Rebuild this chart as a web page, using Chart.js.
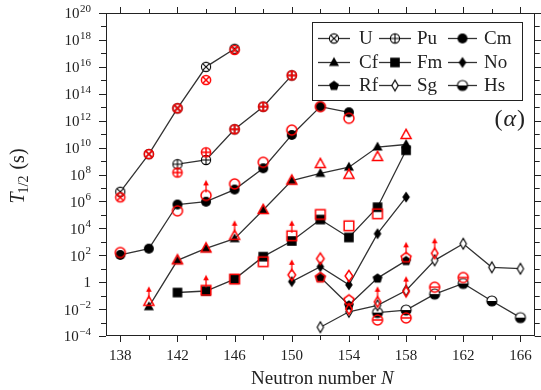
<!DOCTYPE html>
<html>
<head>
<meta charset="utf-8">
<script src="https://cdn.jsdelivr.net/npm/chart.js@4.4.1/dist/chart.umd.min.js"></script>
<style>
  html, body { margin: 0; padding: 0; background: #fff; }
  canvas { display: block; }
</style>
</head>
<body>
<canvas id="halfLife" width="541" height="390"></canvas>
<script>
// Neutron numbers, calculated (black) and experimental (red) half-lives in seconds.
// L_* lists the N values where the red point is a lower limit (arrow up).
const N_U  = [138, 140, 142, 144, 146];
const T_U  = [5.2e6, 3.3e9, 8.3e12, 1.0e16, 2.2e17];
const E_U  = [2.0e6, 3.3e9, 8.3e12, 1.05e15, 1.8e17];
const L_U  = [];

const N_Pu = [142, 144, 146, 148, 150];
const T_Pu = [5.8e8, 1.2e9, 2.3e11, 1.1e13, 2.3e15];
const E_Pu = [1.4e8, 4.5e9, 2.3e11, 1.1e13, 2.3e15];
const L_Pu = [];

const N_Cm = [138, 140, 142, 144, 146, 148, 150, 152, 154];
const T_Cm = [1.05e2, 3.1e2, 5.9e5, 9.5e5, 7.6e6, 2.9e8, 8.7e10, 1.1e13, 4.2e12];
const E_Cm = [1.6e2, null, 2.0e5, 2.8e6, 2.0e7, 8.1e8, 2.0e11, 1.1e13, 1.5e12];
const L_Cm = [144];

const N_Cf = [140, 142, 144, 146, 148, 150, 152, 154, 156, 158];
const T_Cf = [1.5e-2, 4.2e1, 3.2e2, 1.7e3, 2.3e5, 3.5e7, 1.2e8, 3.5e8, 1.1e10, 1.7e10];
const E_Cf = [3.5e-2, 4.2e1, 3.2e2, 2.8e3, 2.3e5, 3.5e7, 6.0e8, 9.5e7, 2.0e9, 8.7e10];
const L_Cf = [140, 146];

const N_Fm = [142, 144, 146, 148, 150, 152, 154, 156, 158];
const T_Fm = [0.17, 0.22, 1.7, 79, 1.15e3, 4.5e4, 2.1e3, 3.7e5, 6.3e9];
const E_Fm = [null, 0.25, 1.7, 33, 2.8e3, 1.07e5, 1.55e4, 1.2e5, null];
const L_Fm = [144, 150];

const N_No = [150, 152, 154, 156, 158];
const T_No = [1.1, 14, 0.63, 4.0e3, 2.1e6];
const E_No = [3.5, 56, 2.9, null, null];
const L_No = [150];

const N_Rf = [152, 154, 156, 158];
const T_Rf = [2.3, 0.02, 2.0, 40];
const E_Rf = [2.3, 0.05, null, 70];
const L_Rf = [158];

const N_Sg = [152, 154, 156, 158, 160, 162, 164, 166];
const T_Sg = [4.5e-4, 6.3e-3, 1.9e-2, 0.24, 42, 7.2e2, 12.6, 10];
const E_Sg = [null, 1.0e-2, 3.5e-2, 0.2, 1.4e2, null, null, null];
const L_Sg = [156, 158, 160];

const N_Hs = [156, 158, 160, 162, 164, 166];
const T_Hs = [5.5e-3, 8.5e-3, 0.13, 0.8, 0.04, 2.3e-3];
const E_Hs = [1.55e-3, 2.2e-3, 0.42, 2.2, null, null];
const L_Hs = [];

const xTicks = [138, 142, 146, 150, 154, 158, 162, 166];
const yExps = [-4, -2, 0, 2, 4, 6, 8, 10, 12, 14, 16, 18, 20];

const elements = [
    { name: 'U',  N: N_U,  calc: T_U,  exp: E_U,  lim: L_U,  shape: 'otimes' },
    { name: 'Pu', N: N_Pu, calc: T_Pu, exp: E_Pu, lim: L_Pu, shape: 'oplus' },
    { name: 'Cm', N: N_Cm, calc: T_Cm, exp: E_Cm, lim: L_Cm, shape: 'circle' },
    { name: 'Cf', N: N_Cf, calc: T_Cf, exp: E_Cf, lim: L_Cf, shape: 'triangle' },
    { name: 'Fm', N: N_Fm, calc: T_Fm, exp: E_Fm, lim: L_Fm, shape: 'square' },
    { name: 'No', N: N_No, calc: T_No, exp: E_No, lim: L_No, shape: 'diamond' },
    { name: 'Rf', N: N_Rf, calc: T_Rf, exp: E_Rf, lim: L_Rf, shape: 'pentagon' },
    { name: 'Sg', N: N_Sg, calc: T_Sg, exp: E_Sg, lim: L_Sg, shape: 'thindiamond' },
    { name: 'Hs', N: N_Hs, calc: T_Hs, exp: E_Hs, lim: L_Hs, shape: 'halfcircle' }
];

const RED = '#ff0000';
const SERIF = '"Liberation Serif", "DejaVu Serif", serif';

// marker drawn into a small canvas, used as pointStyle
function makeMarker(shape, color, solid, arrow) {
    const w = 16;
    const arm = arrow ? 16 : 0;
    const h = 16 + 2 * arm;
    const c = document.createElement('canvas');
    c.width = w; c.height = h;
    const g = c.getContext('2d');
    g.translate(w / 2, h / 2);
    g.strokeStyle = color;
    g.fillStyle = color;
    g.lineWidth = solid ? 1.1 : 1.5;

    if (arrow) {
        g.lineWidth = 1.3;
        g.beginPath();
        g.moveTo(0, -3);
        g.lineTo(0, -12);
        g.stroke();
        g.beginPath();
        g.moveTo(0, -15.5);
        g.lineTo(2.8, -10);
        g.lineTo(-2.8, -10);
        g.closePath();
        g.fill();
        g.lineWidth = 1.5;
    }

    const openFill = () => {
        if (solid) { g.fillStyle = '#fff'; g.fill(); g.fillStyle = color; }
        g.stroke();
    };
    const poly = (pts) => {
        g.beginPath();
        pts.forEach((p, i) => i ? g.lineTo(p[0], p[1]) : g.moveTo(p[0], p[1]));
        g.closePath();
    };

    switch (shape) {
        case 'otimes':
            g.beginPath(); g.arc(0, 0, 4.6, 0, Math.PI * 2); openFill();
            g.beginPath();
            g.moveTo(-3.2, -3.2); g.lineTo(3.2, 3.2);
            g.moveTo(3.2, -3.2); g.lineTo(-3.2, 3.2);
            g.stroke();
            break;
        case 'oplus':
            g.beginPath(); g.arc(0, 0, 4.6, 0, Math.PI * 2); openFill();
            g.beginPath();
            g.moveTo(-4.6, 0); g.lineTo(4.6, 0);
            g.moveTo(0, -4.6); g.lineTo(0, 4.6);
            g.stroke();
            break;
        case 'circle':
            g.beginPath(); g.arc(0, 0, 5, 0, Math.PI * 2);
            solid ? g.fill() : g.stroke();
            break;
        case 'triangle':
            poly([[0, -5.6], [5, 3.4], [-5, 3.4]]);
            solid ? g.fill() : g.stroke();
            break;
        case 'square':
            poly([[-4.8, -4.8], [4.8, -4.8], [4.8, 4.8], [-4.8, 4.8]]);
            solid ? g.fill() : g.stroke();
            break;
        case 'diamond':
            poly([[0, -5.6], [3.8, 0], [0, 5.6], [-3.8, 0]]);
            solid ? g.fill() : g.stroke();
            break;
        case 'pentagon': {
            const pts = [];
            for (let k = 0; k < 5; k++) {
                const a = -Math.PI / 2 + k * 2 * Math.PI / 5;
                pts.push([5.2 * Math.cos(a), 5.2 * Math.sin(a) + 0.4]);
            }
            poly(pts);
            solid ? g.fill() : g.stroke();
            break;
        }
        case 'thindiamond':
            poly([[0, -5.4], [3.2, 0], [0, 5.4], [-3.2, 0]]);
            openFill();
            break;
        case 'halfcircle':
            if (solid) {
                g.beginPath(); g.arc(0, 0, 5, 0, Math.PI * 2);
                g.fillStyle = '#fff'; g.fill(); g.fillStyle = color;
                g.beginPath(); g.arc(0, 0, 5, 0, Math.PI); g.closePath(); g.fill();
                g.beginPath(); g.arc(0, 0, 5, 0, Math.PI * 2); g.stroke();
            } else {
                g.beginPath(); g.arc(0, 0, 5, 0, Math.PI * 2); g.stroke();
                g.beginPath(); g.moveTo(-5, 0); g.lineTo(5, 0); g.stroke();
            }
            break;
    }
    return c;
}

const blackMarks = {};
const datasets = [];
elements.forEach(el => {
    const mk = makeMarker(el.shape, '#000', true, false);
    blackMarks[el.name] = mk;
    datasets.push({
        type: 'line',
        label: el.name,
        data: el.N.map((n, i) => ({ x: n, y: el.calc[i] })),
        borderColor: '#333',
        borderWidth: 1.3,
        pointStyle: mk,
        pointRadius: 5,
        fill: false,
        tension: 0,
        order: 2
    });
    const red = makeMarker(el.shape, RED, false, false);
    const redUp = makeMarker(el.shape, RED, false, true);
    const pts = [];
    el.N.forEach((n, i) => { if (el.exp[i] != null) pts.push({ x: n, y: el.exp[i] }); });
    datasets.push({
        type: 'scatter',
        label: el.name + ' exp',
        data: pts,
        showLine: false,
        pointStyle: ctx => (ctx.raw && el.lim.includes(ctx.raw.x)) ? redUp : red,
        pointRadius: 5,
        order: 1
    });
});

// axes frame, ticks, labels, titles and legend
const decorations = {
    id: 'decorations',
    afterDraw(chart) {
        const { ctx, chartArea: a, scales: { x, y } } = chart;
        ctx.save();
        ctx.strokeStyle = '#222';
        ctx.lineWidth = 1;
        ctx.strokeRect(Math.round(a.left) + 0.5, Math.round(a.top) + 0.5,
            Math.round(a.right - a.left) - 1, Math.round(a.bottom - a.top) - 1);

        ctx.beginPath();
        for (let n = 138; n <= 166; n += 2) {
            const px = Math.round(x.getPixelForValue(n)) + 0.5;
            const len = xTicks.includes(n) ? 6 : 4;
            ctx.moveTo(px, a.bottom); ctx.lineTo(px, a.bottom + len);
            ctx.moveTo(px, a.top); ctx.lineTo(px, a.top - len);
        }
        for (let e = -4; e <= 20; e++) {
            const py = Math.round(y.getPixelForValue(Math.pow(10, e))) + 0.5;
            const len = yExps.includes(e) ? 7 : 5;
            ctx.moveTo(a.left, py); ctx.lineTo(a.left - len, py);
            ctx.moveTo(a.right, py); ctx.lineTo(a.right + len, py);
        }
        ctx.stroke();

        ctx.fillStyle = '#222';
        ctx.font = '15px ' + SERIF;
        ctx.textAlign = 'center';
        ctx.textBaseline = 'middle';
        xTicks.forEach(n => ctx.fillText(String(n), x.getPixelForValue(n), 356));

        // y labels 10^e
        yExps.forEach(e => {
            const py = y.getPixelForValue(Math.pow(10, e));
            const right = 91;
            ctx.textAlign = 'left';
            ctx.textBaseline = 'middle';
            if (e === 0) {
                ctx.font = '15px ' + SERIF;
                ctx.fillText('1', right - ctx.measureText('1').width, py + 1);
                return;
            }
            const sup = e < 0 ? '\u2212' + Math.abs(e) : String(e);
            ctx.font = '11px ' + SERIF;
            const ws = ctx.measureText(sup).width;
            ctx.font = '15px ' + SERIF;
            const wb = ctx.measureText('10').width;
            const x0 = right - ws - wb - 0.5;
            ctx.fillText('10', x0, py + 1.5);
            ctx.font = '11px ' + SERIF;
            ctx.fillText(sup, x0 + wb + 0.5, py - 4);
        });

        // x title
        ctx.textBaseline = 'alphabetic';
        ctx.font = '19px ' + SERIF;
        const t1 = 'Neutron number ';
        const w1 = ctx.measureText(t1).width;
        ctx.font = 'italic 19px ' + SERIF;
        const w2 = ctx.measureText('N').width;
        const xs = (a.left + a.right) / 2 - (w1 + w2) / 2 + 2;
        ctx.font = '19px ' + SERIF;
        ctx.fillText(t1, xs, 384);
        ctx.font = 'italic 19px ' + SERIF;
        ctx.fillText('N', xs + w1, 384);

        // y title T_{1/2} (s)
        ctx.save();
        ctx.translate(24, 176);
        ctx.rotate(-Math.PI / 2);
        ctx.font = 'italic 20px ' + SERIF;
        const wT = ctx.measureText('T').width;
        ctx.font = '14px ' + SERIF;
        const wSub = ctx.measureText('1/2').width;
        ctx.font = '20px ' + SERIF;
        const wS = ctx.measureText(' (s)').width;
        let cx = -(wT + wSub + wS) / 2;
        ctx.font = 'italic 20px ' + SERIF;
        ctx.fillText('T', cx, 0); cx += wT - 1;
        ctx.font = '14px ' + SERIF;
        ctx.fillText('1/2', cx, 4); cx += wSub + 1;
        ctx.font = '20px ' + SERIF;
        ctx.fillText(' (s)', cx, 0);
        ctx.restore();

        // (alpha)
        ctx.font = '24px ' + SERIF;
        ctx.textBaseline = 'alphabetic';
        const wp = ctx.measureText('(').width;
        ctx.font = 'italic 24px ' + SERIF;
        const wa = ctx.measureText('\u03b1').width;
        let ax = 525 - (2 * wp + wa + 2);
        ctx.font = '24px ' + SERIF;
        ctx.fillText('(', ax, 126); ax += wp + 1;
        ctx.font = 'italic 24px ' + SERIF;
        ctx.fillText('\u03b1', ax, 126); ax += wa + 1;
        ctx.font = '24px ' + SERIF;
        ctx.fillText(')', ax, 126);

        // legend box
        ctx.fillStyle = '#fff';
        ctx.fillRect(312.5, 22.5, 210, 78);
        ctx.strokeStyle = '#222';
        ctx.strokeRect(312.5, 22.5, 210, 78);
        const cols = [[318, 350, 359], [379, 411, 417], [448, 477, 484]];
        const rows = [38, 62, 85];
        ctx.font = '19px ' + SERIF;
        ctx.textBaseline = 'middle';
        ctx.textAlign = 'left';
        elements.forEach((el, i) => {
            const c = cols[i % 3], ry = rows[Math.floor(i / 3)];
            ctx.strokeStyle = '#333';
            ctx.lineWidth = 1.3;
            ctx.beginPath(); ctx.moveTo(c[0], ry + 0.5); ctx.lineTo(c[1], ry + 0.5); ctx.stroke();
            const mk = blackMarks[el.name];
            ctx.drawImage(mk, (c[0] + c[1]) / 2 - mk.width / 2, ry + 0.5 - mk.height / 2);
            ctx.fillStyle = '#222';
            ctx.fillText(el.name, c[2], ry + 1);
        });
        ctx.restore();
    }
};

new Chart(document.getElementById('halfLife').getContext('2d'), {
    data: { datasets: datasets },
    options: {
        responsive: false,
        animation: false,
        devicePixelRatio: 1,
        layout: { padding: { top: 13, right: 6, left: 0, bottom: 0 } },
        plugins: {
            legend: { display: false },
            tooltip: { enabled: false }
        },
        scales: {
            x: {
                type: 'linear', min: 137, max: 167,
                grid: { display: false }, border: { display: false },
                ticks: { display: false },
                afterFit: s => { s.height = 54; }
            },
            y: {
                type: 'logarithmic', min: 1e-4, max: 1e20,
                grid: { display: false }, border: { display: false },
                ticks: { display: false },
                afterFit: s => { s.width = 106; }
            }
        }
    },
    plugins: [decorations]
});
</script>
</body>
</html>
